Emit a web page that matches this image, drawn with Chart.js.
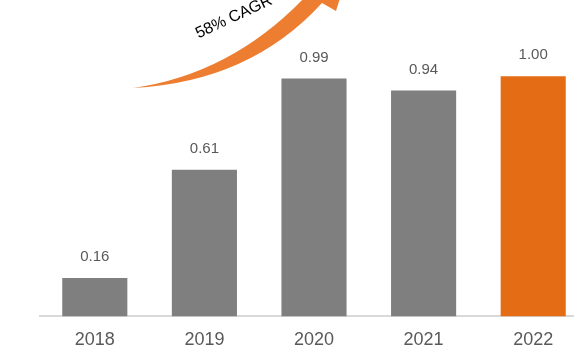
<!DOCTYPE html>
<html><head><meta charset="utf-8">
<script src="https://cdn.jsdelivr.net/npm/chart.js@4/dist/chart.umd.min.js"></script>
<style>
html,body{margin:0;padding:0;overflow:hidden;background:#fff;}
#wrap{width:588px;height:364px;position:relative;}
</style></head>
<body><div id="wrap"><canvas id="c"></canvas></div>
<script>
const categories = ['2018','2019','2020','2021','2022'];
const values = [0.16, 0.61, 0.99, 0.94, 1.00];
const valueLabels = ['0.16','0.61','0.99','0.94','1.00'];
const barColors = ['#7f7f7f','#7f7f7f','#7f7f7f','#7f7f7f','#e46c14'];
const cagrText = '58% CAGR';

const labelPlugin = {
  id: 'labels',
  afterDatasetsDraw(chart) {
    const ctx = chart.ctx;
    const meta = chart.getDatasetMeta(0);
    ctx.save();
    ctx.font = '15px "Liberation Sans", Arial, sans-serif';
    ctx.fillStyle = '#595959';
    ctx.textAlign = 'center';
    ctx.textBaseline = 'middle';
    meta.data.forEach((bar, i) => {
      ctx.fillText(valueLabels[i], bar.x, bar.y - 21);
    });
    ctx.restore();
  }
};

const arrowPlugin = {
  id: 'arrow',
  afterDraw(chart) {
    const ctx = chart.ctx;
    ctx.save();
    ctx.fillStyle = '#ed7d31';
    ctx.beginPath();
    ctx.moveTo(133, 88);
    ctx.quadraticCurveTo(250, 82, 322, 3);
    ctx.lineTo(336, 11);
    ctx.lineTo(348, -28);
    ctx.lineTo(300, -14);
    ctx.lineTo(306, -4);
    ctx.quadraticCurveTo(232, 74, 133, 88);
    ctx.closePath();
    ctx.fill();
    ctx.translate(234, 17);
    ctx.rotate(-25 * Math.PI / 180);
    ctx.font = '16px "Liberation Sans", Arial, sans-serif';
    ctx.fillStyle = '#000';
    ctx.textAlign = 'center';
    ctx.textBaseline = 'middle';
    ctx.fillText(cagrText, 0, 0);
    ctx.restore();
  }
};

new Chart(document.getElementById('c'), {
  type: 'bar',
  data: {
    labels: categories,
    datasets: [{
      data: values,
      backgroundColor: barColors,
      categoryPercentage: 1.0,
      barPercentage: 0.594
    }]
  },
  options: {
    responsive: true,
    maintainAspectRatio: false,
    animation: false,
    layout: { padding: { left: 40, right: 0, top: 0, bottom: 0 } },
    plugins: { legend: { display: false }, tooltip: { enabled: false } },
    scales: {
      x: {
        grid: { display: false, drawTicks: false },
        border: { display: true, color: '#d9d9d9', width: 2 },
        ticks: { color: '#595959', font: { size: 18, family: '"Liberation Sans", Arial, sans-serif' }, padding: 13 }
      },
      y: {
        display: false,
        min: 0,
        max: 1.317
      }
    }
  },
  plugins: [labelPlugin, arrowPlugin]
});
</script></body></html>
